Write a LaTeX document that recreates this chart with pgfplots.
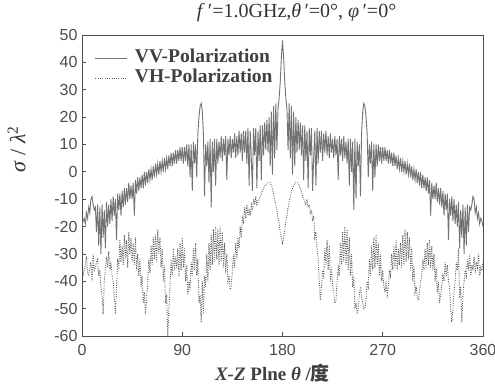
\documentclass[border=0pt]{standalone}
\usepackage{pgfplots}
\pgfplotsset{compat=1.18}
\usepackage{pgfplotstable}
\usepackage{fontspec}
\setmainfont{Liberation Serif}
\newfontfamily\sansf{Liberation Sans}
\newfontfamily\cjk{Noto Sans CJK SC}

% VV, theta = 0,1,...,360 deg
\pgfplotstableread[header=false,row sep=\\]{
-20\\-18\\-17\\-19\\-15\\-17\\-13\\-15\\-10\\-9\\
-12\\-14\\-13\\-22\\-12\\-27\\-13\\-30\\-12\\-24\\
-14\\-28\\-11\\-20\\-12\\-19\\-10\\-18\\-9\\-16\\
-10\\-25\\-8\\-14\\-8\\-16\\-7\\-13\\-6\\-12\\
-6\\-11\\-4\\-10\\-5\\-10\\-4\\-16\\-3\\-8\\
-2\\-7\\-2\\-6\\-1\\-6\\0\\-5\\0\\-4\\
1\\-3\\1\\-3\\2\\-2\\3\\-1\\3\\-1\\
4\\0\\4\\0\\5\\1\\5\\1\\6\\2\\
7\\2\\7\\3\\8\\3\\8\\4\\9\\4\\
9\\3\\9\\4\\10\\2\\10\\-2\\10\\-7\\
11\\3\\10\\-2\\14\\20\\24\\25\\22\\14\\
-9\\10\\2\\11\\-4\\12\\-13\\11\\0\\12\\
-5\\12\\3\\11\\5\\13\\4\\12\\6\\13\\
-3\\12\\6\\13\\5\\12\\7\\14\\5\\13\\
6\\15\\7\\14\\4\\15\\7\\15\\3\\16\\
-5\\15\\5\\-7\\16\\6\\16\\-6\\15\\4\\
17\\-3\\17\\6\\18\\8\\19\\7\\20\\2\\
22\\-1\\24\\5\\25\\8\\23\\27\\33\\42\\
48\\
42\\33\\27\\23\\8\\25\\5\\24\\-1\\22\\
2\\20\\7\\19\\8\\18\\6\\17\\-3\\17\\
4\\15\\-6\\16\\6\\16\\-7\\5\\15\\-5\\
16\\3\\15\\7\\15\\4\\14\\7\\15\\6\\
13\\5\\14\\7\\12\\5\\13\\6\\12\\-3\\
13\\6\\12\\4\\13\\5\\11\\3\\12\\-5\\
12\\0\\11\\-14\\12\\-10\\11\\2\\10\\-9\\
14\\22\\25\\24\\20\\14\\-2\\10\\3\\11\\
-7\\10\\-2\\10\\2\\10\\4\\9\\3\\9\\
4\\9\\4\\8\\3\\8\\3\\7\\2\\7\\
2\\6\\1\\5\\1\\5\\0\\4\\0\\4\\
-1\\3\\-1\\3\\-2\\2\\-3\\1\\-3\\1\\
-4\\0\\-5\\0\\-6\\-1\\-6\\-2\\-7\\-2\\
-8\\-3\\-16\\-4\\-10\\-5\\-10\\-4\\-11\\-6\\
-12\\-6\\-13\\-7\\-16\\-8\\-14\\-8\\-25\\-10\\
-16\\-9\\-18\\-10\\-19\\-12\\-20\\-11\\-28\\-14\\
-24\\-12\\-30\\-13\\-27\\-12\\-22\\-13\\-14\\-12\\
-9\\-10\\-15\\-13\\-17\\-15\\-19\\-17\\-18\\-20\\
}\vvdata

% VH, theta = 0,1,...,360 deg
\pgfplotstableread[header=false,row sep=\\]{
-33\\-38\\-36\\-34\\-31\\-37\\-38\\-35\\-33\\-40\\
-30\\-36\\-35\\-33\\-32\\-38\\-36\\-42\\-45\\-52\\
-40\\-36\\-31\\-35\\-29\\-36\\-33\\-38\\-40\\-46\\
-52\\-42\\-32\\-36\\-25\\-33\\-27\\-34\\-23\\-32\\
-25\\-35\\-22\\-30\\-24\\-33\\-26\\-34\\-24\\-36\\
-30\\-38\\-32\\-42\\-38\\-48\\-44\\-52\\-47\\-40\\
-32\\-37\\-27\\-34\\-24\\-32\\-23\\-33\\-21\\-30\\
-24\\-35\\-28\\-40\\-34\\-48\\-45\\-60\\-50\\-42\\
-32\\-38\\-28\\-36\\-31\\-35\\-28\\-38\\-26\\-36\\
-24\\-35\\-28\\-40\\-34\\-45\\-40\\-43\\-33\\-38\\
-28\\-36\\-26\\-38\\-32\\-48\\-45\\-55\\-40\\-52\\
-38\\-42\\-30\\-40\\-26\\-36\\-23\\-34\\-21\\-33\\
-20\\-32\\-21\\-34\\-20\\-33\\-22\\-35\\-26\\-37\\
-30\\-40\\-38\\-43\\-42\\-36\\-30\\-35\\-26\\-32\\
-24\\-28\\-20\\-24\\-16\\-19\\-13\\-17\\-12\\-16\\
-14\\-16\\-12\\-14\\-10\\-12\\-9\\-12\\-11\\-10\\
-9\\-8\\-7\\-6\\-5\\-5\\-4\\-4\\-4\\-4\\
-5\\-6\\-8\\-10\\-12\\-14\\-17\\-19\\-22\\-24\\
-26\\
-24\\-21\\-18\\-16\\-13\\-11\\-9\\-7\\-6\\-5\\
-4\\-4\\-4\\-4\\-5\\-6\\-7\\-9\\-10\\-11\\
-12\\-10\\-13\\-12\\-15\\-14\\-18\\-16\\-24\\-22\\
-28\\-32\\-40\\-47\\-42\\-36\\-38\\-28\\-34\\-25\\
-36\\-27\\-40\\-35\\-42\\-44\\-48\\-47\\-40\\-35\\
-38\\-26\\-34\\-22\\-33\\-20\\-34\\-21\\-36\\-24\\
-38\\-30\\-42\\-38\\-50\\-48\\-52\\-50\\-45\\-42\\
-46\\-48\\-50\\-50\\-47\\-40\\-42\\-32\\-38\\-27\\
-36\\-24\\-35\\-23\\-34\\-26\\-38\\-30\\-40\\-36\\
-42\\-44\\-40\\-45\\-42\\-36\\-38\\-30\\-36\\-27\\
-35\\-25\\-36\\-28\\-34\\-26\\-35\\-23\\-34\\-21\\
-33\\-22\\-32\\-24\\-36\\-28\\-40\\-34\\-44\\-42\\
-46\\-47\\-44\\-40\\-38\\-32\\-36\\-28\\-35\\-26\\
-34\\-25\\-35\\-27\\-36\\-30\\-40\\-35\\-44\\-40\\
-48\\-45\\-42\\-38\\-40\\-33\\-38\\-34\\-40\\-42\\
-50\\-55\\-50\\-44\\-40\\-33\\-36\\-28\\-46\\-42\\
-55\\-45\\-40\\-36\\-38\\-32\\-36\\-30\\-38\\-34\\
-36\\-31\\-37\\-33\\-35\\-30\\-38\\-35\\-36\\-33\\
}\vhdata

\begin{document}
\begin{tikzpicture}
\useasboundingbox (-82pt,-48pt) rectangle (413pt,336pt);
\begin{axis}[
  at={(0pt,0pt)}, anchor=south west,
  width=401pt, height=301pt, scale only axis,
  xmin=0, xmax=360, ymin=-60, ymax=50,
  xtick={0,90,180,270,360},
  xticklabels={0,90,180,270,360},
  ytick={-60,-50,-40,-30,-20,-10,0,10,20,30,40,50},
  yticklabels={-60,-50,-40,-30,-20,-10,0,10,20,30,40,50},
  tick align=inside, xtick pos=bottom, ytick pos=left,
  major tick length=4pt,
  tick style={black!70, line width=0.7pt},
  tick label style={font=\sansf\fontsize{16}{16}\selectfont, text=black!70},
  xticklabel style={yshift=-5pt},
  yticklabel style={xshift=-1pt},
  axis line style={black!70, line width=0.8pt},
  title={\textit{f}\,′=1.0GHz,\textit{θ}\,′=0°, \textit{φ}\,′=0°},
  title style={font=\fontsize{20}{20}\selectfont, text=black!80, inner sep=0pt,
    at={(axis description cs:0.535,1.025)}, anchor=south},
  xlabel={\textit{X-Z} Plne \textit{θ} /{\cjk 度}},
  xlabel style={font=\fontsize{19}{19}\selectfont\bfseries, text=black!75, inner sep=0pt,
    at={(axis description cs:0.475,-0.093)}, anchor=north},
  ylabel={\textit{σ} / \textit{λ}\textsuperscript{2}},
  ylabel style={font=\fontsize{22}{22}\selectfont, text=black!80, inner sep=0pt,
    at={(axis description cs:-0.14,0.62)}, anchor=south},
  legend style={at={(axis description cs:0.032,0.957)}, anchor=north west,
    draw=none, fill=none, font=\fontsize{19.5}{19.5}\selectfont\bfseries, text=black!75,
    row sep=0pt, inner sep=0pt,
    nodes={inner sep=1.5pt, text height=12.5pt, text depth=4.5pt}},
  legend cell align=left,
  legend image code/.code={\draw[#1] (0pt,0pt) -- (32pt,0pt); \path[draw=none,fill=none] (38pt,0pt);},
]
\addplot[color=black!55, line width=0.9pt, mark=none]
  table[x expr=\coordindex, y index=0] {\vvdata};
\addlegendentry{VV-Polarization}
\addplot[color=black!65, line width=0.9pt, mark=none, dash pattern=on 0.9pt off 1.4pt]
  table[x expr=\coordindex, y index=0] {\vhdata};
\addlegendentry{VH-Polarization}
\end{axis}
\end{tikzpicture}
\end{document}
